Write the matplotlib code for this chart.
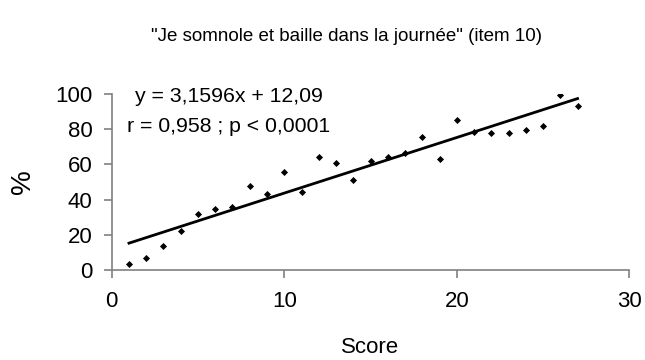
import matplotlib
matplotlib.use("Agg")
import matplotlib.pyplot as plt
import numpy as np

plt.rcParams['font.family'] = ['Liberation Sans', 'DejaVu Sans']

score = [1, 2, 3, 4, 5, 6, 7, 8, 9, 10, 11, 12, 13, 14, 15, 16, 17, 18, 19, 20,
         21, 22, 23, 24, 25, 26, 27]
pct = [3.4, 6.6, 13.5, 22.2, 32.0, 34.5, 35.6, 47.7, 43.2, 55.5, 44.3, 64.4, 61.0,
       51.1, 62.0, 64.2, 66.3, 75.4, 63.3, 85.4, 78.6, 77.7, 77.7, 79.7, 82.0, 99.6, 93.2]
slope = 3.1596
intercept = 12.09
title = '"Je somnole et baille dans la journée" (item 10)'
eq_text = "y = 3,1596x + 12,09"
r_text = "r = 0,958 ; p < 0,0001"
xticks = [0, 10, 20, 30]
yticks = [0, 20, 40, 60, 80, 100]

fig = plt.figure(figsize=(6.45, 3.6), dpi=100)
ax = fig.add_axes([0.1732, 0.25, 0.8025, 0.4889])

ax.scatter(score, pct, marker='D', s=13, color='black', zorder=3, linewidths=0)
xl = np.array([min(score), max(score)])
ax.plot(xl, slope * xl + intercept, color='black', lw=2, zorder=2)

ax.set_xlim(0, 30)
ax.set_ylim(0, 100)
ax.set_xticks(xticks)
ax.set_yticks(yticks)
for s in ['top', 'right']:
    ax.spines[s].set_visible(False)
for s in ['left', 'bottom']:
    ax.spines[s].set_color('#808080')
    ax.spines[s].set_linewidth(1.2)
ax.tick_params(axis='both', colors='#808080', length=6, width=1.2, labelsize=16,
               labelcolor='black')
ax.tick_params(axis='y', pad=8)
ax.tick_params(axis='x', pad=9)

ax.set_xlabel('Score', fontsize=16, labelpad=18)
ax.set_ylabel('%', fontsize=20, labelpad=14)

fig.text(0.537, 0.899, title, ha='center', va='center', fontsize=13.5)
ax.text(0.226, 0.985, eq_text, transform=ax.transAxes, ha='center', va='center', fontsize=15.3)
ax.text(0.226, 0.815, r_text, transform=ax.transAxes, ha='center', va='center', fontsize=15.3)

fig.savefig('out.png', dpi=100)
